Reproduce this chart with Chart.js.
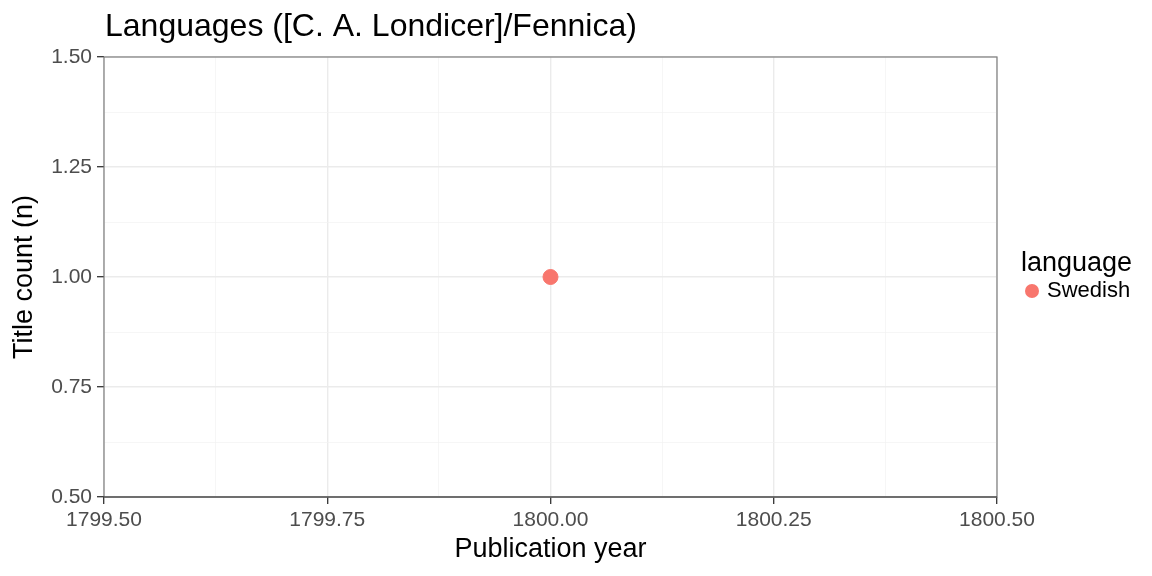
<!DOCTYPE html>
<html>
<head>
<meta charset="utf-8">
<script src="https://cdn.jsdelivr.net/npm/chart.js@4"></script>
<style>
  html, body { margin: 0; padding: 0; background: #fff; }
  #wrap { position: relative; width: 1152px; height: 576px; }
</style>
</head>
<body>
<div id="wrap"><canvas id="chart" width="1152" height="576"></canvas></div>
<script>
// Данные графика
const years = [1800];
const counts = [1];
const languages = ['Swedish'];
const colors = ['#F8766D'];
const xRange = [1799.5, 1800.5];
const yRange = [0.5, 1.5];

const FONT = '"Liberation Sans", Arial, sans-serif';

const isMajor = v => Math.abs(v * 4 - Math.round(v * 4)) < 1e-9;

// Подписи, легенда и рамка
const decorPlugin = {
    id: 'decor',
    afterDraw(chart) {
        const ctx = chart.ctx;
        const a = chart.chartArea;
        ctx.save();
        // рамка панели
        ctx.strokeStyle = '#7f7f7f';
        ctx.lineWidth = 1.2;
        ctx.strokeRect(a.left, a.top, a.right - a.left, a.bottom - a.top);
        ctx.strokeStyle = '#333333';
        ctx.beginPath();
        ctx.moveTo(a.left - 1, a.bottom);
        ctx.lineTo(a.right, a.bottom);
        ctx.stroke();

        ctx.fillStyle = '#000';
        ctx.font = '32px ' + FONT;
        ctx.textAlign = 'left';
        ctx.textBaseline = 'middle';
        ctx.fillText('Languages ([C. A. Londicer]/Fennica)', 105, 27);

        ctx.font = '27px ' + FONT;
        ctx.textAlign = 'center';
        ctx.fillText('Publication year', (a.left + a.right) / 2, 550);

        ctx.save();
        ctx.translate(25, (a.top + a.bottom) / 2);
        ctx.rotate(-Math.PI / 2);
        ctx.fillText('Title count (n)', 0, 0);
        ctx.restore();

        // легенда
        ctx.textAlign = 'left';
        ctx.font = '27px ' + FONT;
        ctx.fillText('language', 1021, 264);
        languages.forEach((lang, i) => {
            const y = 291 + i * 26;
            ctx.fillStyle = colors[i];
            ctx.beginPath();
            ctx.arc(1032, y, 7, 0, Math.PI * 2);
            ctx.fill();
            ctx.fillStyle = '#000';
            ctx.font = '22px ' + FONT;
            ctx.fillText(lang, 1047, y);
        });
        ctx.restore();
    }
};

const gridOpts = {
    color: c => isMajor(c.tick.value) ? '#ebebeb' : '#f2f2f2',
    lineWidth: c => isMajor(c.tick.value) ? 1.4 : 0.7,
    tickColor: c => isMajor(c.tick.value) ? '#333333' : 'rgba(0,0,0,0)',
    tickLength: 7,
    tickWidth: 1.3,
    drawTicks: true
};

new Chart(document.getElementById('chart').getContext('2d'), {
    type: 'scatter',
    data: {
        datasets: languages.map((lang, i) => ({
            label: lang,
            data: years.map((y, j) => ({ x: y, y: counts[j] })),
            backgroundColor: colors[i],
            borderColor: colors[i],
            pointRadius: 7.5,
            pointHoverRadius: 7.5
        }))
    },
    options: {
        responsive: false,
        animation: false,
        layout: { padding: { left: 0, top: 57, right: 1152 - 997, bottom: 0 } },
        plugins: { legend: { display: false }, tooltip: { enabled: false } },
        scales: {
            x: {
                type: 'linear',
                min: xRange[0],
                max: xRange[1],
                grid: gridOpts,
                border: { display: false },
                afterFit: s => { s.height = 79; },
                ticks: {
                    stepSize: 0.125,
                    autoSkip: false,
                    maxRotation: 0,
                    padding: 4,
                    color: '#4d4d4d',
                    font: { family: FONT, size: 21 },
                    callback: v => isMajor(v) ? v.toFixed(2) : ''
                }
            },
            y: {
                type: 'linear',
                min: yRange[0],
                max: yRange[1],
                grid: gridOpts,
                border: { display: false },
                afterFit: s => { s.width = 104; },
                ticks: {
                    stepSize: 0.125,
                    autoSkip: false,
                    padding: 5,
                    color: '#4d4d4d',
                    font: { family: FONT, size: 21 },
                    callback: v => isMajor(v) ? v.toFixed(2) : ''
                }
            }
        }
    },
    plugins: [decorPlugin]
});
</script>
</body>
</html>
